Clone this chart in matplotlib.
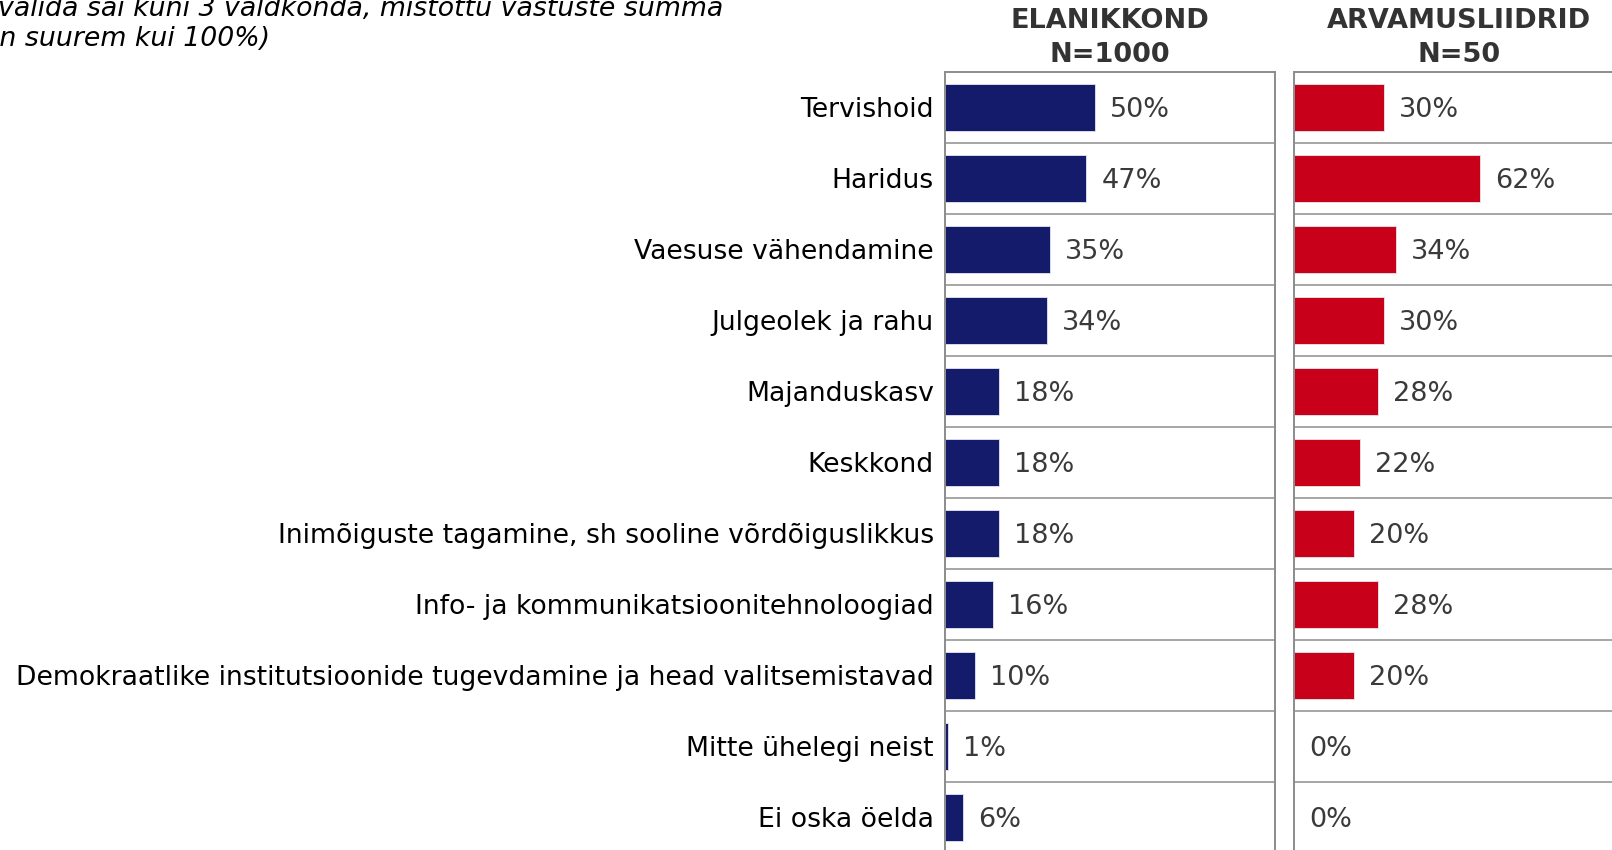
import matplotlib.pyplot as plt

categories = ['Tervishoid', 'Haridus', 'Vaesuse vähendamine', 'Julgeolek ja rahu',
              'Majanduskasv', 'Keskkond', 'Inimõiguste tagamine, sh sooline võrdõiguslikkus',
              'Info- ja kommunikatsioonitehnoloogiad',
              'Demokraatlike institutsioonide tugevdamine ja head valitsemistavad',
              'Mitte ühelegi neist', 'Ei oska öelda']
elanikkond = [50, 47, 35, 34, 18, 18, 18, 16, 10, 1, 6]
arvamusliidrid = [30, 62, 34, 30, 28, 22, 20, 28, 20, 0, 0]
headers = ['ELANIKKOND\nN=1000', 'ARVAMUSLIIDRID\nN=50']

plt.rcParams['font.family'] = ['DejaVu Sans']

fig = plt.figure(figsize=(16.12, 8.5), dpi=100)

W, H = 1612, 850
top_px, row_px = 72, 71
n = len(categories)
ax_h = row_px * n
panels = [(945, elanikkond, '#141B6B', headers[0]),
          (1294, arvamusliidrid, '#C8001A', headers[1])]

for i, (x0, vals, col, head) in enumerate(panels):
    ax = fig.add_axes([x0 / W, 1 - (top_px + ax_h) / H, 330 / W, ax_h / H])
    ypos = list(range(n))
    ax.barh(ypos, vals, height=0.65, color=col, edgecolor='#e6e6f0', linewidth=0.6)
    for y, v in zip(ypos, vals):
        ax.annotate(f'{v}%', (v, y), xytext=(11, 0), textcoords='offset points',
                    va='center_baseline', ha='left', fontsize=19.5, color='#3a3a3a')
    ax.set_xlim(0, 110)
    ax.set_ylim(n - 0.5, -0.5)
    for y in range(n - 1):
        ax.axhline(y + 0.5, color='#a6a6a6', lw=1.4)
    ax.set_xticks([])
    for s in ['left', 'right', 'top']:
        ax.spines[s].set_color('#8c8c8c')
        ax.spines[s].set_linewidth(1.4)
    ax.spines['bottom'].set_visible(False)
    if i == 0:
        ax.set_yticks(ypos)
        ax.set_yticklabels(categories, fontsize=19.2, color='black')
        ax.tick_params(axis='y', length=0, pad=8)
    else:
        ax.set_yticks([])
    fig.text((x0 + 165) / W, 1 - 38 / H, head, ha='center', va='center',
             fontsize=19.5, fontweight='bold', color='#333333', linespacing=1.4)

fig.text(-2 / W, 1 - 16 / H, 'valida sai kuni 3 valdkonda, mistõttu vastuste summa',
         ha='left', va='baseline', fontsize=19.3, style='italic')
fig.text(-17 / W, 1 - 46 / H, 'on suurem kui 100%)',
         ha='left', va='baseline', fontsize=19.3, style='italic')

fig.savefig('out.png', dpi=100)
